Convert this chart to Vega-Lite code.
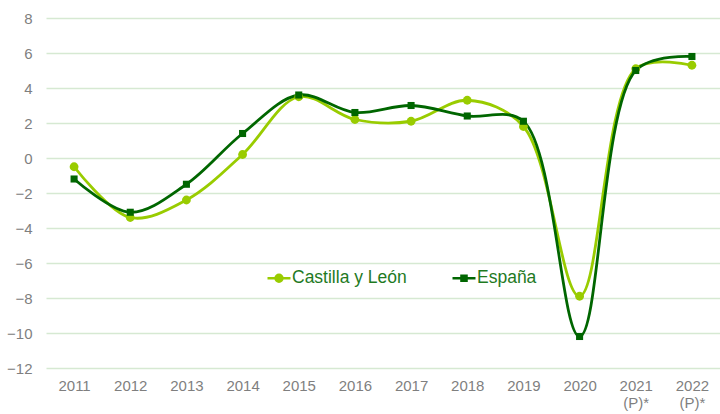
{
  "$schema": "https://vega.github.io/schema/vega-lite/v6.json",
  "width": 674,
  "height": 350,
  "autosize": {"type": "none"},
  "padding": {"left": 46, "top": 18, "right": 0, "bottom": 46},
  "config": {"view": {"stroke": null}, "font": "Liberation Sans"},
  "data": {
    "values": [
      {"año": "2011", "serie": "Castilla y León", "valor": -0.5},
      {"año": "2012", "serie": "Castilla y León", "valor": -3.4},
      {"año": "2013", "serie": "Castilla y León", "valor": -2.4},
      {"año": "2014", "serie": "Castilla y León", "valor": 0.2},
      {"año": "2015", "serie": "Castilla y León", "valor": 3.5},
      {"año": "2016", "serie": "Castilla y León", "valor": 2.2},
      {"año": "2017", "serie": "Castilla y León", "valor": 2.1},
      {"año": "2018", "serie": "Castilla y León", "valor": 3.3},
      {"año": "2019", "serie": "Castilla y León", "valor": 1.8},
      {"año": "2020", "serie": "Castilla y León", "valor": -7.9},
      {"año": "2021 (P)*", "serie": "Castilla y León", "valor": 5.1},
      {"año": "2022 (P)*", "serie": "Castilla y León", "valor": 5.3},
      {"año": "2011", "serie": "España", "valor": -1.2},
      {"año": "2012", "serie": "España", "valor": -3.1},
      {"año": "2013", "serie": "España", "valor": -1.5},
      {"año": "2014", "serie": "España", "valor": 1.4},
      {"año": "2015", "serie": "España", "valor": 3.6},
      {"año": "2016", "serie": "España", "valor": 2.6},
      {"año": "2017", "serie": "España", "valor": 3.0},
      {"año": "2018", "serie": "España", "valor": 2.4},
      {"año": "2019", "serie": "España", "valor": 2.1},
      {"año": "2020", "serie": "España", "valor": -10.2},
      {"año": "2021 (P)*", "serie": "España", "valor": 5.0},
      {"año": "2022 (P)*", "serie": "España", "valor": 5.8}
    ]
  },
  "encoding": {
    "x": {
      "field": "año",
      "type": "ordinal",
      "sort": null,
      "axis": {
        "title": null,
        "labelAngle": 0,
        "domain": false,
        "ticks": false,
        "grid": false,
        "labelPadding": 10,
        "labelFontSize": 15,
        "labelColor": "#7f7f7f",
        "labelExpr": "split(datum.value, ' ')",
        "labelLineHeight": 17
      }
    },
    "y": {
      "field": "valor",
      "type": "quantitative",
      "scale": {"domain": [-12, 8], "nice": false},
      "axis": {
        "title": null,
        "values": [-12, -10, -8, -6, -4, -2, 0, 2, 4, 6, 8],
        "domain": false,
        "ticks": false,
        "labelPadding": 14,
        "labelFontSize": 15,
        "labelColor": "#7f7f7f",
        "gridColor": "#d6e9d2",
        "gridWidth": 1.5
      }
    },
    "color": {
      "field": "serie",
      "type": "nominal",
      "scale": {"domain": ["Castilla y León", "España"], "range": ["#99cc00", "#006600"]},
      "legend": {
        "orient": "none",
        "direction": "horizontal",
        "legendX": 220,
        "legendY": 247,
        "title": null,
        "labelFontSize": 17.5,
        "labelColor": "#1f7a1f",
        "symbolSize": 529,
        "symbolStrokeWidth": 2.5,
        "symbolOpacity": 1,
        "columnPadding": 40,
        "labelOffset": 0,
        "symbolType": "M-1,0H1M0.3,0A0.3,0.3,0,1,1,-0.3,0A0.3,0.3,0,1,1,0.3,0Z",
        "encode": {
          "symbols": {
            "update": {
              "shape": {"signal": "datum.value === 'España' ? 'M-1,0H1M-0.22,-0.22H0.22V0.22H-0.22Z' : 'M-1,0H1M0.3,0A0.3,0.3,0,1,1,-0.3,0A0.3,0.3,0,1,1,0.3,0Z'"},
              "fill": {"scale": "color", "field": "value"},
              "stroke": {"scale": "color", "field": "value"}
            }
          }
        }
      }
    }
  },
  "layer": [
    {
      "mark": {"type": "line", "interpolate": "catmull-rom", "strokeWidth": 2.8}
    },
    {
      "mark": {"type": "point", "filled": true, "opacity": 1},
      "encoding": {
        "shape": {
          "condition": {"test": "datum.serie === 'España'", "value": "square"},
          "value": "circle"
        },
        "size": {
          "condition": {"test": "datum.serie === 'España'", "value": 50},
          "value": 78
        }
      }
    }
  ]
}
